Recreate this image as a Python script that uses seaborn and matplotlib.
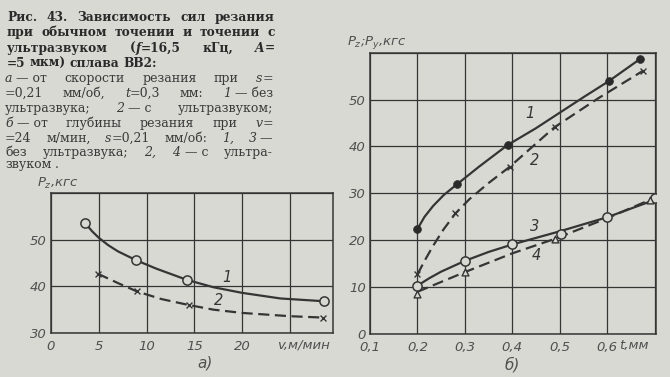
import matplotlib
matplotlib.use('Agg')
import matplotlib.pyplot as plt
import seaborn as sns

# --- график а): Pz от скорости резания v ---
v_pts1 = [3.6, 8.9, 14.2, 28.6]
pz_pts1 = [53.5, 45.7, 41.4, 36.8]
v_pts2 = [4.9, 9.0, 14.4, 28.5]
pz_pts2 = [42.7, 38.9, 36.0, 33.3]
# кривые
v_line1 = [3.6, 4.3, 5, 6, 7, 8.9, 11, 14.2, 17, 20, 24, 28.6]
pz_line1 = [53.5, 51.8, 50.4, 48.8, 47.5, 45.6, 43.8, 41.4, 39.8, 38.6, 37.4, 36.8]
v_line2 = [4.9, 7, 9.0, 11.5, 14.4, 17, 20, 25, 28.5]
pz_line2 = [42.7, 40.7, 38.9, 37.3, 36.0, 35.0, 34.3, 33.6, 33.3]

# --- график б): Pz, Py от глубины резания t ---
t_pts1 = [0.2, 0.283, 0.39, 0.603, 0.67]
p_pts1 = [22.4, 31.9, 40.3, 53.9, 58.7]
t_line1 = [0.2, 0.215, 0.233, 0.255, 0.283, 0.33, 0.39, 0.45, 0.5, 0.55, 0.603, 0.67]
p_line1 = [22.4, 25.0, 27.3, 29.6, 31.9, 35.7, 40.3, 43.9, 47.2, 50.5, 53.9, 58.7]

t_pts2 = [0.2, 0.28, 0.395, 0.489, 0.675]
p_pts2 = [12.7, 25.9, 35.7, 44.1, 56.1]
t_line2 = [0.2, 0.215, 0.233, 0.255, 0.28, 0.31, 0.35, 0.395, 0.489, 0.58, 0.675]
p_line2 = [12.7, 15.6, 18.8, 22.3, 25.7, 28.8, 32.2, 35.7, 44.1, 50.2, 56.1]

t_pts3 = [0.2, 0.3, 0.4, 0.503, 0.6, 0.7]
p_pts3 = [10.3, 15.6, 19.1, 21.3, 24.9, 29.1]
t_line3 = [0.2, 0.225, 0.25, 0.3, 0.35, 0.4, 0.5, 0.6, 0.7]
p_line3 = [10.3, 11.9, 13.3, 15.6, 17.5, 19.1, 21.9, 24.9, 28.6]

t_pts4 = [0.2, 0.3, 0.49, 0.69]
p_pts4 = [8.5, 13.2, 20.3, 28.6]
t_line4 = [0.2, 0.3, 0.4, 0.49, 0.6, 0.69]
p_line4 = [9.0, 13.2, 17.2, 20.3, 24.7, 28.6]

# подпись к рисунку (курсив между _..._, ~ — неразрывный пробел)
caption_bold = [
    "Рис. 43. Зависимость сил резания",
    "при обычном точении и точении с",
    "ультразвуком (_f_=16,5 кГц, _A_=",
    "=5 мкм) сплава ВВ2:",
]
caption_text = [
    "_а_~—~от скорости резания при _s_=",
    "=0,21 мм/об, _t_=0,3 мм: _1_~—~без",
    "ультразвука; _2_~—~с ультразвуком;",
    "_б_~—~от глубины резания при _v_=",
    "=24 м/мин, _s_=0,21 мм/об: _1,_ _3_~—",
    "без ультразвука; _2,_ _4_~—~с ультра-",
    "звуком .",
]

BG = '#d9d9d3'
INK = '#353535'
TICK = '#505050'
W, H = 670, 377

sns.set_style('white')
plt.rcParams['mathtext.fontset'] = 'dejavusans'
plt.rcParams['font.family'] = ['DejaVu Sans']

fig = plt.figure(figsize=(6.7, 3.77), dpi=100, facecolor=BG)
ax1 = fig.add_axes([51 / W, 1 - 333 / H, 282 / W, 140 / H])
ax2 = fig.add_axes([370 / W, 1 - 334 / H, 286 / W, 281.3 / H])

tick_kw = dict(fontsize=9.5, fontstyle='italic', color=TICK)
dash = (0, (5, 2.5))


def style_axes(ax):
    ax.set_facecolor(BG)
    ax.grid(True, color=INK, linewidth=0.9)
    for s in ax.spines.values():
        s.set_color(INK)
        s.set_linewidth(1.1)
    ax.tick_params(length=0, pad=5)
    ax.tick_params(axis='y', pad=3)
    ax.set_xlabel('')
    ax.set_ylabel('')


def markers(ax, x, y, kind):
    if kind == 'open':
        sns.scatterplot(x=x, y=y, ax=ax, marker='o', s=44, facecolor=BG,
                        edgecolor=INK, linewidth=1.1, zorder=5)
    elif kind == 'cross':
        sns.scatterplot(x=x, y=y, ax=ax, marker='x', s=18, color=INK,
                        linewidth=1.0, zorder=5)
    elif kind == 'dot':
        sns.scatterplot(x=x, y=y, ax=ax, marker='o', s=32, color='#2a2a2a',
                        edgecolor='#2a2a2a', zorder=5)
    elif kind == 'tri':
        sns.scatterplot(x=x, y=y, ax=ax, marker='^', s=24, facecolor=BG,
                        edgecolor=INK, linewidth=1.0, zorder=5)


# ---- а) ----
sns.lineplot(x=v_line1, y=pz_line1, ax=ax1, color=INK, linewidth=1.6, sort=False)
sns.lineplot(x=v_line2, y=pz_line2, ax=ax1, color=INK, linewidth=1.6, sort=False,
             linestyle=dash)
markers(ax1, v_pts1, pz_pts1, 'open')
markers(ax1, v_pts2, pz_pts2, 'cross')
ax1.set_xlim(0, 29.5)
ax1.set_ylim(30, 60)
ax1.set_xticks([0, 5, 10, 15, 20, 25])
ax1.set_xticklabels(['0', '5', '10', '15', '20', ''], **tick_kw)
ax1.set_yticks([30, 40, 50, 60])
ax1.set_yticklabels(['30', '40', '50', ''], **tick_kw)
style_axes(ax1)
ax1.annotate('v,м/мин', xy=(26.4, 0), xycoords=('data', 'axes fraction'),
             xytext=(0, -8.5), textcoords='offset points', ha='center', va='center',
             **tick_kw)
ax1.text(18.4, 41.8, '1', fontsize=10.5, fontstyle='italic', color=INK, ha='center', va='center')
ax1.text(17.5, 37.0, '2', fontsize=10.5, fontstyle='italic', color=INK, ha='center', va='center')

# ---- б) ----
sns.lineplot(x=t_line1, y=p_line1, ax=ax2, color=INK, linewidth=1.6, sort=False)
sns.lineplot(x=t_line2, y=p_line2, ax=ax2, color=INK, linewidth=1.6, sort=False,
             linestyle=dash)
sns.lineplot(x=t_line3, y=p_line3, ax=ax2, color=INK, linewidth=1.6, sort=False)
sns.lineplot(x=t_line4, y=p_line4, ax=ax2, color=INK, linewidth=1.6, sort=False,
             linestyle=dash)
markers(ax2, t_pts1, p_pts1, 'dot')
markers(ax2, t_pts2, p_pts2, 'cross')
markers(ax2, t_pts3, p_pts3, 'open')
markers(ax2, t_pts4, p_pts4, 'tri')
ax2.set_xlim(0.1, 0.703)
ax2.set_ylim(0, 60)
ax2.set_xticks([0.1, 0.2, 0.3, 0.4, 0.5, 0.6, 0.7])
ax2.set_xticklabels(['0,1', '0,2', '0,3', '0,4', '0,5', '0,6', ''], **tick_kw)
ax2.set_yticks([0, 10, 20, 30, 40, 50, 60])
ax2.set_yticklabels(['0', '10', '20', '30', '40', '50', ''], **tick_kw)
style_axes(ax2)
ax2.annotate('t,мм', xy=(0.657, 0), xycoords=('data', 'axes fraction'),
             xytext=(0, -8.5), textcoords='offset points', ha='center', va='center',
             **tick_kw)
for lab, xx, yy in [('1', 0.437, 47.1), ('2', 0.447, 37.1), ('3', 0.447, 22.9), ('4', 0.45, 16.8)]:
    ax2.text(xx, yy, lab, fontsize=10.5, fontstyle='italic', color=INK, ha='center', va='center')

# подписи осей и панелей
fig.text(37 / W, 1 - 183 / H, '$P_z$,кгс', fontsize=9.5, fontstyle='italic', color=TICK,
         ha='left', va='center')
fig.text(347 / W, 1 - 43 / H, '$P_z$;$P_y$,кгс', fontsize=9.5, fontstyle='italic', color=TICK,
         ha='left', va='center')
fig.text(205 / W, 1 - 363 / H, 'а)', fontsize=11, fontstyle='italic', color=TICK,
         ha='center', va='center')
fig.text(512 / W, 1 - 365 / H, 'б)', fontsize=11, fontstyle='italic', color=TICK,
         ha='center', va='center')

# ---- подпись с выравниванием по ширине ----
renderer = fig.canvas.get_renderer()
X0, X1 = 5, 273


def caption_line(line, base_px, bold, justify, color, size):
    words = line.split(' ')
    pieces = []
    for w in words:
        objs = []
        for i, s in enumerate(w.replace('~', ' ').split('_')):
            if not s:
                continue
            objs.append(fig.text(0, 1 - base_px / H, s, fontsize=size,
                                 family='DejaVu Serif',
                                 fontweight='bold' if bold else 'normal',
                                 fontstyle='italic' if i % 2 else 'normal',
                                 color=color, va='baseline', ha='left'))
        pieces.append(objs)
    widths = [[o.get_window_extent(renderer).width for o in objs] for objs in pieces]
    total = sum(sum(ws) for ws in widths)
    gap = 4
    if justify and len(words) > 1:
        gap = max(2.5, (X1 - X0 - total) / (len(words) - 1))
    x = X0 + (2 if bold else 0)
    for objs, ws in zip(pieces, widths):
        for o, w in zip(objs, ws):
            o.set_x(x / W)
            x += w
        x += gap


bold_base = [21, 36, 52, 67]
for i, (line, b) in enumerate(zip(caption_bold, bold_base)):
    caption_line(line, b, True, i < len(caption_bold) - 1, '#2a2a2a', 8.8)

text_base = [82, 97, 112, 127, 141.5, 155.5, 168]
for i, (line, b) in enumerate(zip(caption_text, text_base)):
    caption_line(line, b, False, i < len(caption_text) - 1, '#3a3a3a', 9)

fig.savefig('out.png', dpi=100, facecolor=BG)
